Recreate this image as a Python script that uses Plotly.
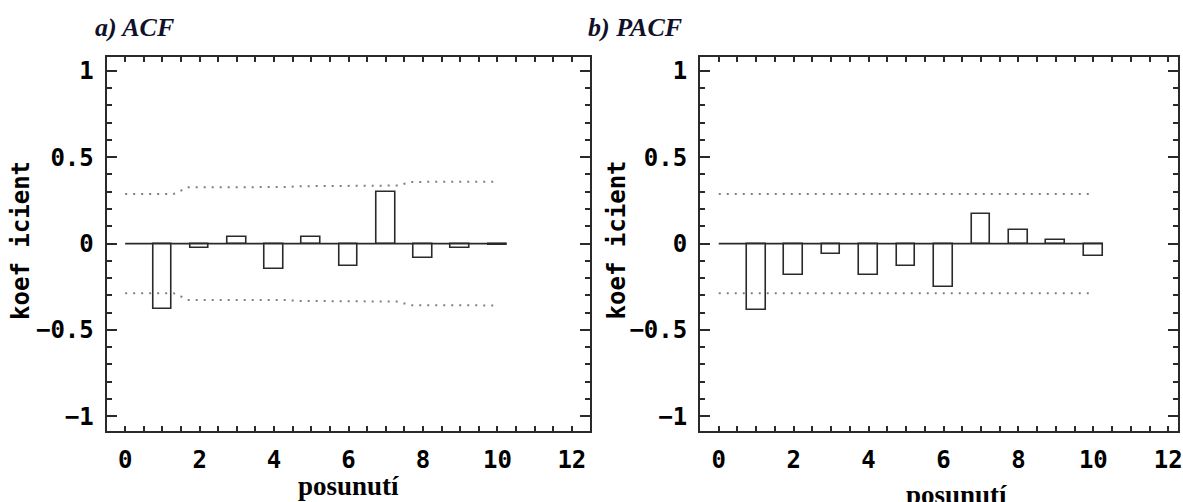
import plotly.graph_objects as go

lags = [1, 2, 3, 4, 5, 6, 7, 8, 9, 10]
acf = [-0.38, -0.025, 0.04, -0.15, 0.04, -0.13, 0.30, -0.085, -0.025, -0.01]
pacf = [-0.383, -0.184, -0.058, -0.184, -0.13, -0.25, 0.174, 0.081, 0.023, -0.07]

band_lags = [0, 1, 2, 3, 4, 5, 6, 7, 8, 9, 10]
acf_band = [0.287, 0.287, 0.326, 0.326, 0.327, 0.332, 0.333, 0.336, 0.357, 0.358, 0.358]
pacf_band = [0.287] * 11

x_ticks = [0, 2, 4, 6, 8, 10, 12]
y_ticks = [-1, -0.5, 0, 0.5, 1]
y_labels = ["\u22121", "\u22120.5", "0", "0.5", "1"]

W, H = 1183, 502
LINE = "#2a2a2a"
MONO = "DejaVu Sans Mono"


def step_band(lk, vals, half=0.3):
    xs, ys = [], []
    last = lk[-1]
    for k, v in zip(lk, vals):
        a = max(k - half, lk[0])
        b = min(k + half, last)
        xs += [a, b]
        ys += [v, v]
    return xs, ys


fig = go.Figure()

panels = [("x", "y", acf, acf_band), ("x2", "y2", pacf, pacf_band)]
for xa, ya, vals, band in panels:
    fig.add_trace(go.Bar(
        x=lags, y=vals, width=0.5, xaxis=xa, yaxis=ya,
        marker=dict(color="white", line=dict(color=LINE, width=1.6)),
        showlegend=False, hoverinfo="x+y"))
    bx, by = step_band(band_lags, band)
    for sgn in (1, -1):
        fig.add_trace(go.Scatter(
            x=bx, y=[sgn * v for v in by], mode="lines", xaxis=xa, yaxis=ya,
            line=dict(color="#808080", width=2, dash="2px,6px"),
            showlegend=False, hoverinfo="skip"))
    fig.add_trace(go.Scatter(
        x=[0, lags[-1] + 0.25], y=[0, 0], mode="lines", xaxis=xa, yaxis=ya,
        line=dict(color=LINE, width=1.8), showlegend=False, hoverinfo="skip"))

ydom = [1 - 431 / H, 1 - 57 / H]
tickfont = dict(family=MONO, size=24, color="black", weight="bold")
common_x = dict(
    tickmode="array", tickvals=x_ticks, ticktext=[str(t) for t in x_ticks],
    ticks="inside", ticklen=5, tickwidth=1.5, tickcolor=LINE,
    minor=dict(dtick=0.5, ticks="inside", ticklen=5, tickwidth=1.5, tickcolor=LINE),
    showline=True, linecolor=LINE, linewidth=2, mirror="allticks",
    showgrid=False, zeroline=False, fixedrange=True,
    tickfont=tickfont, ticklabelstandoff=6, ticklabeloverflow="allow",
)
common_y = dict(
    range=[-1.085, 1.08], tickmode="array", tickvals=y_ticks, ticktext=y_labels,
    ticks="inside", ticklen=10, tickwidth=1.5, tickcolor=LINE,
    minor=dict(dtick=0.1, ticks="inside", ticklen=5, tickwidth=1.5, tickcolor=LINE),
    showline=True, linecolor=LINE, linewidth=2, mirror="allticks",
    showgrid=False, zeroline=False, fixedrange=True,
    tickfont=tickfont, ticklabelstandoff=6, domain=ydom,
)

fig.update_layout(
    width=W, height=H, margin=dict(l=0, r=0, t=0, b=0),
    paper_bgcolor="white", plot_bgcolor="white", bargap=0,
    xaxis=dict(common_x, domain=[107 / W, 593 / W], range=[-0.5, 12.5]),
    yaxis=dict(common_y, anchor="x"),
    xaxis2=dict(common_x, domain=[703 / W, 1.0], range=[-0.5, 12.26], anchor="y2"),
    yaxis2=dict(common_y, anchor="x2"),
)

serif_title = dict(family="Liberation Serif", size=26, color="#10102a")
xtitle_font = dict(family="Liberation Serif", size=27, color="black")
ytitle_font = dict(family=MONO, size=24, color="black")
ann = [
    dict(text="<b><i>a) ACF</i></b>", x=93 / W, y=1 - 28 / H, xanchor="left", yanchor="middle",
         font=serif_title),
    dict(text="<b><i>b) PACF</i></b>", x=588 / W, y=1 - 28 / H, xanchor="left", yanchor="middle",
         font=serif_title),
    dict(text="<b>posunutí</b>", x=350 / W, y=1 - 486 / H, xanchor="center", yanchor="middle",
         font=xtitle_font),
    dict(text="<b>posunutí</b>", x=961 / W, y=1 - 495 / H, xanchor="center", yanchor="middle",
         font=xtitle_font),
    dict(text="<b>koef icient</b>", x=21 / W, y=1 - 240 / H, xanchor="center", yanchor="middle",
         textangle=-90, font=ytitle_font),
    dict(text="<b>koef icient</b>", x=620 / W, y=1 - 240 / H, xanchor="center", yanchor="middle",
         textangle=-90, font=ytitle_font),
]
for a in ann:
    a.update(xref="paper", yref="paper", showarrow=False)
fig.update_layout(annotations=ann)

fig.write_html("out.html", config={"displayModeBar": False},
               post_script="document.body.style.margin='0';document.body.style.overflow='hidden';")
